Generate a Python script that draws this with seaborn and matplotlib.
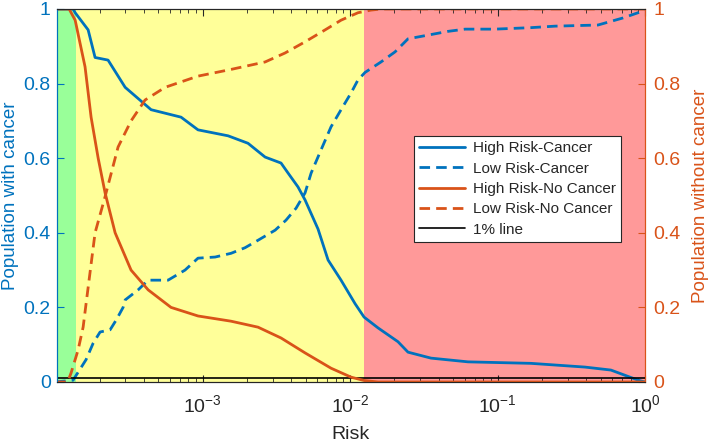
import numpy as np
import pandas as pd
import matplotlib
matplotlib.use("Agg")
import matplotlib.pyplot as plt
from matplotlib.lines import Line2D
from matplotlib.ticker import FuncFormatter, LogLocator, NullFormatter
import seaborn as sns

# risk (risk = 10**exp)
hr_cancer_exp = [-4.0, -3.878, -3.864, -3.776, -3.729, -3.641, -3.525, -3.349, -3.146,
                 -3.031, -2.827, -2.692, -2.576, -2.468, -2.420, -2.353, -2.305, -2.217,
                 -2.149, -2.061, -1.966, -1.905, -1.810, -1.675, -1.607, -1.451, -1.200,
                 -0.773, -0.407, -0.231, -0.047, 0.0]
hr_cancer = [1.0, 1.0, 0.99, 0.944, 0.87, 0.863, 0.79, 0.73, 0.71,
             0.676, 0.66, 0.64, 0.603, 0.587, 0.56, 0.523, 0.488, 0.41,
             0.327, 0.273, 0.21, 0.174, 0.145, 0.108, 0.08, 0.064, 0.054,
             0.05, 0.04, 0.032, 0.005, 0.0]

lr_cancer_exp = [-4.0, -3.878, -3.790, -3.742, -3.695, -3.627, -3.586, -3.539, -3.525,
                 -3.437, -3.369, -3.234, -3.119, -3.031, -2.915, -2.807, -2.712, -2.624,
                 -2.508, -2.434, -2.366, -2.305, -2.264, -2.197, -2.129, -2.061, -1.993,
                 -1.946, -1.898, -1.790, -1.695, -1.607, -1.471, -1.336, -1.220, -1.017,
                 -0.773, -0.610, -0.319, -0.149, -0.047, 0.0]
lr_cancer = [0.0, 0.005, 0.06, 0.104, 0.134, 0.14, 0.166, 0.2, 0.22,
             0.247, 0.273, 0.273, 0.3, 0.332, 0.335, 0.345, 0.36, 0.38,
             0.407, 0.434, 0.466, 0.507, 0.56, 0.622, 0.684, 0.73, 0.775,
             0.81, 0.83, 0.858, 0.885, 0.92, 0.93, 0.94, 0.946, 0.946,
             0.95, 0.954, 0.957, 0.976, 0.99, 1.0]

hr_nocancer_exp = [-4.0, -3.905, -3.864, -3.797, -3.756, -3.708, -3.661, -3.593, -3.485,
                   -3.369, -3.214, -3.031, -2.807, -2.624, -2.468, -2.305, -2.129, -1.993,
                   -1.905, -1.810, 0.0]
hr_nocancer = [1.0, 1.0, 0.97, 0.845, 0.71, 0.6, 0.507, 0.4, 0.3,
               0.247, 0.2, 0.177, 0.163, 0.147, 0.118, 0.078, 0.037, 0.013,
               0.004, 0.0, 0.0]

lr_nocancer_exp = [-4.0, -3.915, -3.892, -3.844, -3.810, -3.790, -3.729, -3.661, -3.573,
                   -3.485, -3.390, -3.254, -3.031, -2.807, -2.576, -2.441, -2.305, -2.169,
                   -2.061, -1.946, -1.858, -1.790, 0.0]
lr_nocancer = [0.0, 0.0, 0.024, 0.086, 0.147, 0.21, 0.4, 0.497, 0.63,
               0.70, 0.756, 0.79, 0.82, 0.838, 0.858, 0.882, 0.912, 0.944,
               0.97, 0.99, 0.997, 1.0, 1.0]

one_pct = 0.01
region_edges = [1.0e-4, 1.39e-4, 0.01245, 1.0]
region_colors = ['#99FF99', '#FFFF99', '#FF9999']
x_ticks = [1e-3, 1e-2, 1e-1, 1.0]
y_ticks = [0, 0.2, 0.4, 0.6, 0.8, 1.0]

BLUE = '#0072BD'
ORANGE = '#D95319'
GRAY = '#262626'

sns.set_style("white")
plt.rcParams['font.family'] = ['Liberation Sans', 'DejaVu Sans']
plt.rcParams['mathtext.fontset'] = 'custom'
plt.rcParams['mathtext.rm'] = 'Liberation Sans'
plt.rcParams['mathtext.it'] = 'Liberation Sans:italic'


def to_frame(exps, vals):
    return pd.DataFrame({'risk': np.power(10.0, exps), 'share': vals})


fig = plt.figure(figsize=(7.09, 4.43), dpi=100)
ax = fig.add_axes([0.0804, 0.1377, 0.8293, 0.842])
ax.set_xscale('log')
ax2 = ax.twinx()

# coloured risk bands
for lo, hi, c in zip(region_edges[:-1], region_edges[1:], region_colors):
    ax.axvspan(lo, hi, facecolor=c, edgecolor='none', zorder=0)

lw = 2.0
dash = (0, (3.8, 2.2))
sns.lineplot(data=to_frame(hr_cancer_exp, hr_cancer), x='risk', y='share', ax=ax,
             color=BLUE, lw=lw, zorder=3)
sns.lineplot(data=to_frame(lr_cancer_exp, lr_cancer), x='risk', y='share', ax=ax,
             color=BLUE, lw=lw, linestyle=dash, zorder=3)
ax.axhline(one_pct, color='black', lw=1.2, zorder=4)

sns.lineplot(data=to_frame(hr_nocancer_exp, hr_nocancer), x='risk', y='share', ax=ax2,
             color=ORANGE, lw=lw, zorder=2)
sns.lineplot(data=to_frame(lr_nocancer_exp, lr_nocancer), x='risk', y='share', ax=ax2,
             color=ORANGE, lw=lw, linestyle=dash, zorder=2)

ax.set_xlim(1.03e-4, 1.0)
ax.set_ylim(0, 1)
ax2.set_ylim(0, 1)

ax.set_xticks(x_ticks)
ax.xaxis.set_major_formatter(FuncFormatter(lambda v, p: r'$10^{%d}$' % round(np.log10(v))))
ax.xaxis.set_minor_locator(LogLocator(base=10, subs=np.arange(2, 10)))
ax.xaxis.set_minor_formatter(NullFormatter())
ax.set_yticks(y_ticks)
ax2.set_yticks(y_ticks)
fmt = FuncFormatter(lambda v, p: '%g' % v)
ax.yaxis.set_major_formatter(fmt)
ax2.yaxis.set_major_formatter(fmt)

ax.tick_params(axis='x', which='major', direction='in', top=True, bottom=True,
               length=5, width=0.8, color=GRAY, labelcolor=GRAY, labelsize=14, pad=9)
ax.tick_params(axis='x', which='minor', direction='in', top=True, bottom=True,
               length=3, width=0.6, color=GRAY)
ax.tick_params(axis='y', direction='in', left=True, right=False, length=5,
               color=BLUE, labelcolor=BLUE, labelsize=14, pad=4.5)
ax2.tick_params(axis='y', direction='in', right=True, left=False, length=5,
                color=ORANGE, labelcolor=ORANGE, labelsize=14, pad=6)

for a in (ax, ax2):
    for s in a.spines.values():
        s.set_linewidth(0.8)
        s.set_color(GRAY)
ax.spines['left'].set_color(BLUE)
ax2.spines['left'].set_color(BLUE)
ax.spines['right'].set_color(ORANGE)
ax2.spines['right'].set_color(ORANGE)

ax.set_xlabel('Risk', fontsize=14, color=GRAY, labelpad=7)
ax.set_ylabel('Population with cancer', fontsize=13.5, color=BLUE, labelpad=3)
ax2.set_ylabel('Population without cancer', fontsize=13.5, color=ORANGE, labelpad=8)

handles = [
    Line2D([], [], color=BLUE, lw=lw, label='High Risk-Cancer'),
    Line2D([], [], color=BLUE, lw=lw, linestyle=dash, label='Low Risk-Cancer'),
    Line2D([], [], color=ORANGE, lw=lw, label='High Risk-No Cancer'),
    Line2D([], [], color=ORANGE, lw=lw, linestyle=dash, label='Low Risk-No Cancer'),
    Line2D([], [], color='black', lw=1.2, label='1% line'),
]
leg = ax2.legend(handles=handles, loc='upper left', bbox_to_anchor=(0.607, 0.66),
                 borderaxespad=0, fontsize=11, frameon=True, fancybox=False,
                 framealpha=1, edgecolor=GRAY, handlelength=3.0, handletextpad=0.5,
                 labelspacing=0.42, borderpad=0.35)
leg.get_frame().set_linewidth(0.8)
leg.set_zorder(10)

fig.savefig('out.png', dpi=100)
